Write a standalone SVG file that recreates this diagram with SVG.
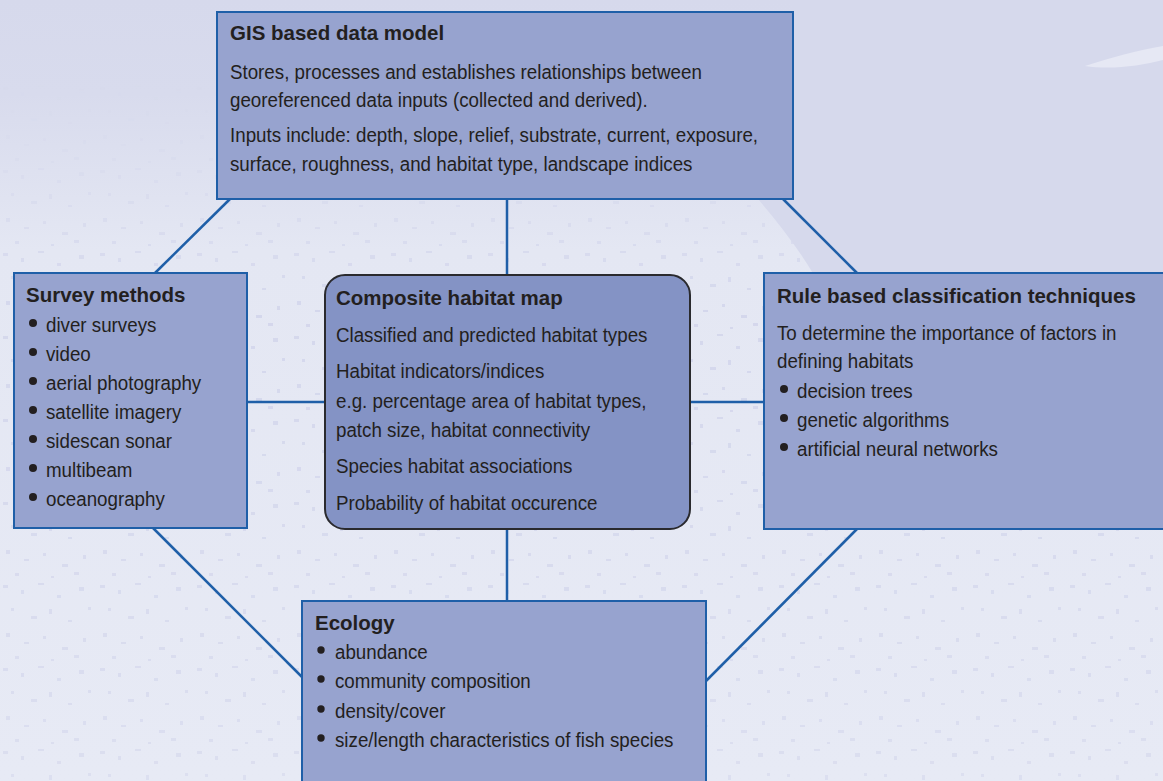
<svg xmlns="http://www.w3.org/2000/svg" width="1163" height="781" viewBox="0 0 1163 781">
<defs>
<linearGradient id="bg" x1="0" y1="0" x2="0" y2="781" gradientUnits="userSpaceOnUse">
<stop offset="0" stop-color="#d6d9ec"/>
<stop offset="0.12" stop-color="#d8dbed"/>
<stop offset="0.32" stop-color="#e4e7f3"/>
<stop offset="1" stop-color="#e7eaf5"/>
</linearGradient>
<linearGradient id="fade" x1="0" y1="0" x2="0" y2="781" gradientUnits="userSpaceOnUse">
<stop offset="0.1" stop-color="#fff" stop-opacity="0"/>
<stop offset="0.4" stop-color="#fff" stop-opacity="1"/>
<stop offset="1" stop-color="#fff" stop-opacity="0.6"/>
</linearGradient>
<mask id="m"><rect width="1163" height="781" fill="url(#fade)"/></mask>
<pattern id="speck" width="97" height="83" patternUnits="userSpaceOnUse">
<g fill="#d4d7ec">
<rect x="3" y="4" width="5" height="3"/>
<rect x="21" y="9" width="3" height="4"/>
<rect x="38" y="2" width="6" height="2"/>
<rect x="57" y="14" width="4" height="3"/>
<rect x="79" y="6" width="5" height="4"/>
<rect x="11" y="27" width="3" height="3"/>
<rect x="31" y="35" width="6" height="3"/>
<rect x="49" y="28" width="3" height="5"/>
<rect x="68" y="39" width="4" height="2"/>
<rect x="88" y="26" width="3" height="3"/>
<rect x="6" y="52" width="4" height="4"/>
<rect x="24" y="61" width="5" height="2"/>
<rect x="43" y="55" width="3" height="3"/>
<rect x="62" y="66" width="6" height="3"/>
<rect x="83" y="57" width="3" height="4"/>
<rect x="15" y="75" width="4" height="3"/>
<rect x="51" y="78" width="3" height="2"/>
<rect x="74" y="74" width="5" height="3"/>
</g>
</pattern>
<style>
.box{fill:#97a3cf;stroke:#1f5fa8;stroke-width:2}
.core{fill:#8493c5;stroke:#2a2a2e;stroke-width:2}
.con{stroke:#1f5fa8;stroke-width:2.5;fill:none}
.dot{fill:#231f20}
text{font-family:"Liberation Sans",Arial,sans-serif;fill:#231f20;font-size:21px}
.t{font-weight:bold;font-size:20.5px}
</style>
</defs>
<rect width="1163" height="781" fill="url(#bg)"/>
<rect width="1163" height="781" fill="url(#speck)" mask="url(#m)"/>
<path d="M780 0 H1163 V275 H814 C798 248 778 222 758 199 H793 V0 Z" fill="#d6d9ec"/>
<path d="M1085 66 C1110 58 1138 50 1163 46 V60 C1140 66 1110 70 1085 66 Z" fill="#e6e8f4"/>
<g id="connectors">
<line class="con" x1="230" y1="199" x2="155" y2="273"/>
<line class="con" x1="507" y1="199" x2="507" y2="275"/>
<line class="con" x1="783" y1="199" x2="857" y2="273"/>
<line class="con" x1="247" y1="402" x2="325" y2="402"/>
<line class="con" x1="690" y1="402" x2="764" y2="402"/>
<line class="con" x1="507" y1="529" x2="507" y2="601"/>
<line class="con" x1="153" y1="528" x2="302" y2="677"/>
<line class="con" x1="857" y1="529" x2="706" y2="681"/>
</g>
<g id="gis">
<rect class="box" x="217" y="12" width="576" height="187"/>
<text class="t" x="230" y="40">GIS based data model</text>
<text transform="translate(230,79) scale(0.893,1)">Stores, processes and establishes relationships between</text>
<text transform="translate(230,107) scale(0.893,1)">georeferenced data inputs (collected and derived).</text>
<text transform="translate(230,142) scale(0.893,1)">Inputs include: depth, slope, relief, substrate, current, exposure,</text>
<text transform="translate(230,171) scale(0.893,1)">surface, roughness, and habitat type, landscape indices</text>
</g>
<g id="survey">
<rect class="box" x="14" y="273" width="233" height="255"/>
<text class="t" x="26" y="302">Survey methods</text>
<circle class="dot" cx="33" cy="323" r="4"/>
<circle class="dot" cx="33" cy="352" r="4"/>
<circle class="dot" cx="33" cy="381" r="4"/>
<circle class="dot" cx="33" cy="410" r="4"/>
<circle class="dot" cx="33" cy="439" r="4"/>
<circle class="dot" cx="33" cy="468" r="4"/>
<circle class="dot" cx="33" cy="497" r="4"/>
<text transform="translate(46,332) scale(0.893,1)">diver surveys</text>
<text transform="translate(46,361) scale(0.893,1)">video</text>
<text transform="translate(46,390) scale(0.893,1)">aerial photography</text>
<text transform="translate(46,419) scale(0.893,1)">satellite imagery</text>
<text transform="translate(46,448) scale(0.893,1)">sidescan sonar</text>
<text transform="translate(46,477) scale(0.893,1)">multibeam</text>
<text transform="translate(46,506) scale(0.893,1)">oceanography</text>
</g>
<g id="composite">
<rect class="core" x="325" y="275" width="365" height="254" rx="20"/>
<text class="t" x="336" y="305">Composite habitat map</text>
<text transform="translate(336,342) scale(0.893,1)">Classified and predicted habitat types</text>
<text transform="translate(336,378) scale(0.893,1)">Habitat indicators/indices</text>
<text transform="translate(336,408) scale(0.893,1)">e.g. percentage area of habitat types,</text>
<text transform="translate(336,437) scale(0.893,1)">patch size, habitat connectivity</text>
<text transform="translate(336,473) scale(0.893,1)">Species habitat associations</text>
<text transform="translate(336,510) scale(0.893,1)">Probability of habitat occurence</text>
</g>
<g id="rule">
<rect class="box" x="764" y="273" width="410" height="256"/>
<text class="t" x="777" y="303">Rule based classification techniques</text>
<text transform="translate(777,340) scale(0.893,1)">To determine the importance of factors in</text>
<text transform="translate(777,368) scale(0.893,1)">defining habitats</text>
<circle class="dot" cx="784" cy="389" r="4"/>
<circle class="dot" cx="784" cy="418" r="4"/>
<circle class="dot" cx="784" cy="447" r="4"/>
<text transform="translate(797,398) scale(0.893,1)">decision trees</text>
<text transform="translate(797,427) scale(0.893,1)">genetic algorithms</text>
<text transform="translate(797,456) scale(0.893,1)">artificial neural networks</text>
</g>
<g id="ecology">
<rect class="box" x="302" y="601" width="404" height="200"/>
<text class="t" x="315" y="630">Ecology</text>
<circle class="dot" cx="321" cy="650" r="3.7"/>
<circle class="dot" cx="321" cy="679" r="3.7"/>
<circle class="dot" cx="321" cy="709" r="3.7"/>
<circle class="dot" cx="321" cy="738" r="3.7"/>
<text transform="translate(335,659) scale(0.893,1)">abundance</text>
<text transform="translate(335,688) scale(0.893,1)">community composition</text>
<text transform="translate(335,718) scale(0.893,1)">density/cover</text>
<text transform="translate(335,747) scale(0.893,1)">size/length characteristics of fish species</text>
</g>
</svg>
